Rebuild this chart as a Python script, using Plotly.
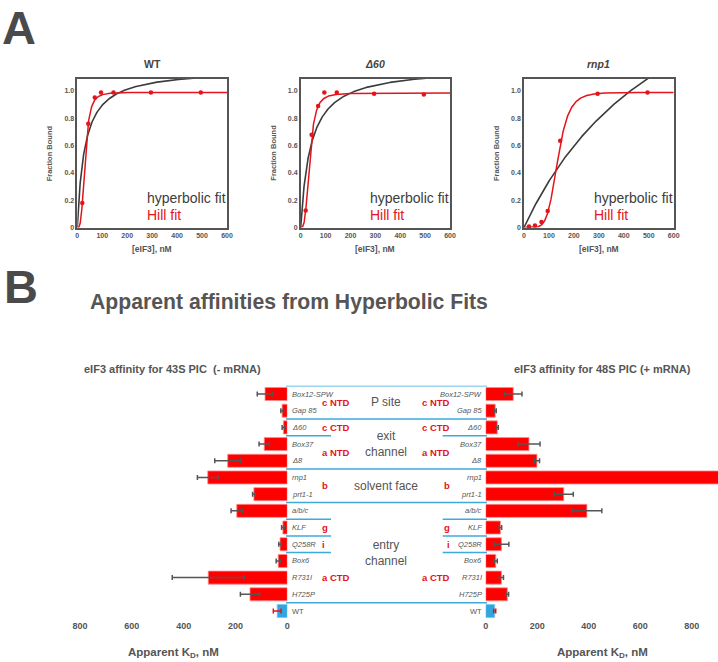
import numpy as np
import plotly.graph_objects as go

W, H = 718, 662


def px(x):
    return x / W


def py(y):
    return 1 - y / H


# ---------------- Panel A data ----------------
panel_titles = ["WT", "<i>Δ60</i>", "<i>rnp1</i>"]
conc = [20, 44, 70, 95, 145, 295, 495]
wt_bound = [0.18, 0.76, 0.953, 0.99, 0.99, 0.99, 0.99]
d60_bound = [0.125, 0.68, 0.89, 0.99, 0.99, 0.98, 0.975]
rnp1_bound = [0.007, 0.015, 0.04, 0.12, 0.635, 0.98, 0.99]
bound_sets = [wt_bound, d60_bound, rnp1_bound]

# fitted parameters (hyperbolic and Hill fits)
hyp_kd = [30, 39.5, 630]
hyp_bmax = [1.165, 1.18, 2.48]
hill_k = [31, 35.9, 135]
hill_n = [3.45, 3.33, 6.0]
hill_bmax = [0.99, 0.985, 0.99]

# ---------------- Panel B data ----------------
mutants = ["Box12-SPW", "Gap 85", "Δ60", "Box37", "Δ8", "rnp1", "prt1-1",
           "a/b/c", "KLF", "Q258R", "Box6", "R731I", "H725P", "WT"]
kd_minus = [86, 20, 15, 89, 230, 307, 129, 195, 17, 28, 35, 305, 144, 39]
err_minus = [30, 5, 5, 20, 50, 40, 5, 22, 5, 5, 8, 139, 37, 15]
kd_plus = [107, 37, 45, 168, 199, 1100, 303, 393, 57, 61, 39, 61, 84, 35]
err_plus = [34, 4, 4, 43, 10, 0, 37, 58, 5, 29, 6, 8, 5, 4]
region_labels = ["c NTD", "c CTD", "a NTD", "b", "g", "i", "a CTD"]
region_rows = [0.5, 2, 3.5, 5.5, 8, 9, 11]
site_labels = ["P site", "exit<br>channel", "solvent face", "entry<br>channel"]
site_rows = [0.5, 3, 5.5, 9.5]
kd_ticks = [0, 200, 400, 600, 800]

GRAY = "#555555"
DARK = "#3c3c3c"
RED = "#e3141b"
BAR_RED = "#ff0000"
BLUE = "#2ea7e0"
LINE_BLUE = "#3fa9dc"
FONT = "Liberation Sans, Arial, sans-serif"

fig = go.Figure()


def note(text, x, y, size, color=GRAY, bold=False, italic=False, xanchor="center",
         yanchor="middle", yref="paper", angle=0):
    f = dict(size=size, color=color, family=FONT)
    if bold:
        f["weight"] = "bold"
    if italic:
        f["style"] = "italic"
    return dict(text=text, x=x, y=y, xref="paper", yref=yref, xanchor=xanchor, yanchor=yanchor,
                showarrow=False, textangle=angle, font=f)


# ---------------- Panel A ----------------
a_x = [(77.3, 227), (300.7, 450), (524, 673.7)]
a_y = (79, 227.5)
xgrid = np.linspace(0, 600, 601)
annotations = []
layout_axes = {}
for i in range(3):
    sfx = "" if i == 0 else str(i + 1)
    xa, ya = "x" + sfx, "y" + sfx
    hyp = hyp_bmax[i] * xgrid / (hyp_kd[i] + xgrid)
    hill = hill_bmax[i] * xgrid ** hill_n[i] / (hill_k[i] ** hill_n[i] + xgrid ** hill_n[i])
    fig.add_trace(go.Scatter(x=xgrid, y=hyp, mode="lines", xaxis=xa, yaxis=ya,
                             line=dict(color=DARK, width=1.6), showlegend=False, hoverinfo="skip"))
    fig.add_trace(go.Scatter(x=xgrid, y=hill, mode="lines", xaxis=xa, yaxis=ya,
                             line=dict(color=RED, width=1.5), showlegend=False, hoverinfo="skip"))
    fig.add_trace(go.Scatter(x=conc, y=bound_sets[i], mode="markers", xaxis=xa, yaxis=ya,
                             marker=dict(color=RED, size=4.5), showlegend=False, cliponaxis=False))
    x0, x1 = a_x[i]
    layout_axes["xaxis" + sfx] = dict(
        domain=[px(x0), px(x1)], range=[0, 600], anchor=ya,
        tickvals=[0, 100, 200, 300, 400, 500, 600],
        showline=True, mirror=True, linecolor=GRAY, linewidth=1.5,
        ticks="", showgrid=False, zeroline=False,
        tickfont=dict(size=7, color=GRAY, family=FONT, weight="bold"))
    layout_axes["yaxis" + sfx] = dict(
        domain=[py(a_y[1]), py(a_y[0])], range=[0, 1.088], anchor=xa,
        tickvals=[0, 0.2, 0.4, 0.6, 0.8, 1.0],
        ticktext=["0", "0.2", "0.4", "0.6", "0.8", "1.0"],
        showline=True, mirror=True, linecolor=GRAY, linewidth=1.5,
        ticks="", showgrid=False, zeroline=False,
        tickfont=dict(size=7, color=GRAY, family=FONT, weight="bold"))
    cx = (x0 + x1) / 2
    annotations.append(note(panel_titles[i], px(cx), py(64), 10.5, color="#444", bold=True))
    annotations.append(note("Fraction Bound", px(x0 - 28), py(153), 7.5, bold=True, angle=-90))
    annotations.append(note("[eIF3], nM", px(cx), py(249), 8.5, bold=True))
    annotations.append(note("hyperbolic fit", px(x0 + 67.5), py(198), 14, color=DARK, xanchor="left"))
    annotations.append(note("Hill fit", px(x0 + 67.5), py(215), 14, color=RED, xanchor="left"))

# ---------------- Panel B ----------------
rows = list(range(len(mutants)))
n_mut = len(mutants) - 1  # last row is WT
yb_top, yb_bot = 385.65, 619.35

fig.add_trace(go.Bar(
    x=kd_minus[:n_mut], y=rows[:n_mut], orientation="h", xaxis="x4", yaxis="y4",
    width=0.78, marker=dict(color=BAR_RED, line=dict(color="#ff8a8a", width=0.8)),
    error_x=dict(type="data", array=err_minus[:n_mut], color=GRAY, thickness=1.5, width=2.5),
    showlegend=False))
fig.add_trace(go.Bar(
    x=kd_minus[n_mut:], y=rows[n_mut:], orientation="h", xaxis="x4", yaxis="y4",
    width=0.78, marker=dict(color=BLUE, line=dict(color="#7cc6ea", width=0.8)),
    error_x=dict(type="data", array=err_minus[n_mut:], color=RED, thickness=1.5, width=2.5),
    showlegend=False))
fig.add_trace(go.Bar(
    x=kd_plus[:n_mut], y=rows[:n_mut], orientation="h", xaxis="x5", yaxis="y5",
    width=0.78, marker=dict(color=BAR_RED, line=dict(color="#ff8a8a", width=0.8)),
    error_x=dict(type="data", array=err_plus[:n_mut], color=GRAY, thickness=1.5, width=2.5),
    showlegend=False))
fig.add_trace(go.Bar(
    x=kd_plus[n_mut:], y=rows[n_mut:], orientation="h", xaxis="x5", yaxis="y5",
    width=0.78, marker=dict(color=BLUE, line=dict(color="#7cc6ea", width=0.8)),
    error_x=dict(type="data", array=err_plus[n_mut:], color=RED, thickness=1.5, width=2.5),
    showlegend=False))

bar_tickfont = dict(size=9, color=GRAY, family=FONT, weight="bold")
for ax, dom, rng in [("4", [px(80), px(287.3)], [800, 0]), ("5", [px(485.7), 1.0], [0, 902])]:
    layout_axes["xaxis" + ax] = dict(domain=dom, range=rng, anchor="y" + ax, tickvals=kd_ticks,
                                     showline=False, showgrid=False, zeroline=False, ticks="",
                                     tickfont=bar_tickfont)
    layout_axes["yaxis" + ax] = dict(domain=[py(yb_bot), py(yb_top)], range=[13.5, -0.5],
                                     anchor="x" + ax, showticklabels=False, showline=False,
                                     showgrid=False, zeroline=False, ticks="")

# row labels
for r, name in enumerate(mutants):
    it = name != "WT"
    annotations.append(note(name, px(290), r, 7.5, italic=it, xanchor="left", yref="y4"))
    annotations.append(note(name, px(484), r, 7.5, italic=it, xanchor="right", yref="y4"))

for lab, r in zip(region_labels, region_rows):
    annotations.append(note(lab, px(320), r, 9.5, color=RED, bold=True, xanchor="left", yref="y4"))
    annotations.append(note(lab, px(452), r, 9.5, color=RED, bold=True, xanchor="right", yref="y4"))

for lab, r in zip(site_labels, site_rows):
    annotations.append(note(lab, px(386), r, 12, yref="y4"))

# separator lines
shapes = []
full_bounds = [-0.5, 1.5, 4.5, 6.5, 12.5]
short_bounds = [2.5, 7.5, 8.5, 9.5]
for b in full_bounds:
    shapes.append(dict(type="line", xref="paper", yref="y4", x0=px(286), x1=px(487), y0=b, y1=b,
                       line=dict(color=LINE_BLUE, width=1.5)))
for b in short_bounds:
    shapes.append(dict(type="line", xref="paper", yref="y4", x0=px(286), x1=px(331), y0=b, y1=b,
                       line=dict(color=LINE_BLUE, width=1.5)))
    shapes.append(dict(type="line", xref="paper", yref="y4", x0=px(442.7), x1=px(487), y0=b, y1=b,
                       line=dict(color=LINE_BLUE, width=1.5)))

# panel letters and titles
letter_a = note("A", px(1), 1.0, 47, color="#4a4a4a", bold=True, xanchor="left", yanchor="top")
letter_a["borderpad"] = 0
annotations += [
    letter_a,
    note("B", px(2), py(286), 47, color="#4a4a4a", bold=True, xanchor="left"),
    note("Apparent affinities from Hyperbolic Fits", px(88), py(302), 21.2, bold=True, xanchor="left"),
    note("eIF3 affinity for 43S PIC  (- mRNA)", px(172), py(369), 11, bold=True),
    note("eIF3 affinity for 48S PIC (+ mRNA)", px(602), py(369), 11, bold=True),
    note("Apparent K<sub>D</sub>, nM", px(173), py(653), 11.5, bold=True),
    note("Apparent K<sub>D</sub>, nM", px(602), py(653), 11.5, bold=True),
]

fig.update_layout(
    width=W, height=H, margin=dict(l=0, r=0, t=0, b=0, autoexpand=False),
    paper_bgcolor="white", plot_bgcolor="rgba(0,0,0,0)",
    showlegend=False, barmode="overlay",
    annotations=annotations, shapes=shapes,
    font=dict(family=FONT, color=GRAY),
    **layout_axes,
)

fig.write_html("out.html", config={"displayModeBar": False},
               post_script="document.body.style.margin='0px';")
